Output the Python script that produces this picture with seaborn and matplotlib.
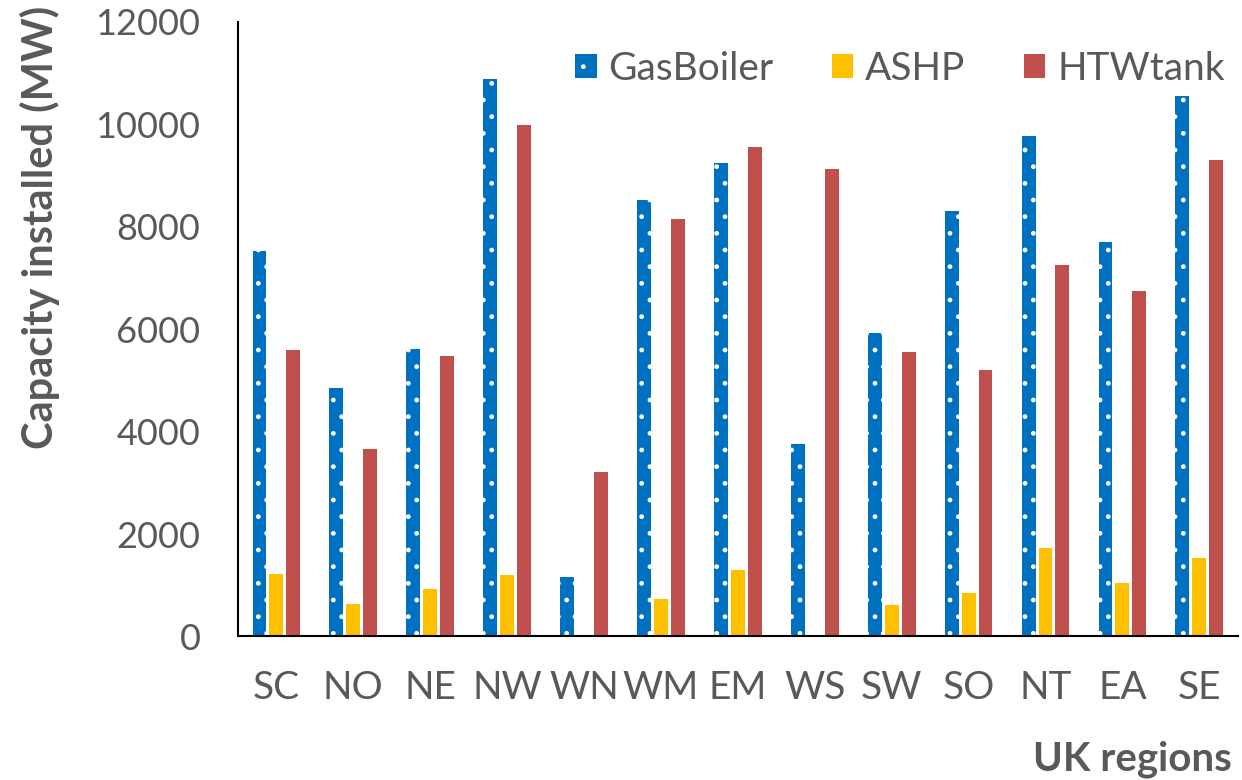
import matplotlib
matplotlib.use("Agg")
import matplotlib.pyplot as plt
from matplotlib.patches import Patch
import pandas as pd
import seaborn as sns

regions = ["SC", "NO", "NE", "NW", "WN", "WM", "EM", "WS", "SW", "SO", "NT", "EA", "SE"]
gas_boiler = [7530, 4860, 5620, 10880, 1160, 8520, 9250, 3750, 5920, 8310, 9770, 7700, 10560]
ashp = [1225, 630, 935, 1195, 0, 740, 1290, 0, 610, 840, 1720, 1050, 1540]
htw_tank = [5590, 3670, 5470, 9980, 3210, 8150, 9560, 9120, 5550, 5200, 7250, 6740, 9300]
technologies = ["GasBoiler", "ASHP", "HTWtank"]
y_ticks = [0, 2000, 4000, 6000, 8000, 10000, 12000]

colors = {"GasBoiler": "#0070C0", "ASHP": "#FFC000", "HTWtank": "#C0504D"}
text_color = "#595959"

df = pd.DataFrame({
    "region": regions * 3,
    "tech": [t for t in technologies for _ in regions],
    "capacity": gas_boiler + ashp + htw_tank,
})

sns.set_theme(style="white")
plt.rcParams["font.family"] = ["Lato", "DejaVu Sans"]
plt.rcParams["hatch.color"] = "white"
plt.rcParams["hatch.linewidth"] = 1.0

fig = plt.figure(figsize=(12.42, 7.8), dpi=100)
ax = fig.add_axes([0.1916, 0.184, 0.805, 0.788])

sns.barplot(data=df, x="region", y="capacity", hue="tech", order=regions,
            hue_order=technologies, palette=colors, width=0.66, gap=0.18,
            saturation=1, legend=False, ax=ax, linewidth=0)

# dotted fill on the gas boiler bars
for bar in ax.containers[0]:
    bar.set_hatch(".")
    bar.set_edgecolor("white")
    bar.set_linewidth(0)

ax.set_xlim(-0.5, len(regions) - 0.5)
ax.set_ylim(0, 12000)
ax.set_yticks(y_ticks)
ax.set_yticklabels([str(v) for v in y_ticks])

for side in ["top", "right"]:
    ax.spines[side].set_visible(False)
for side in ["left", "bottom"]:
    ax.spines[side].set_color("black")
    ax.spines[side].set_linewidth(1.5)

ax.tick_params(axis="y", length=0, pad=27, labelsize=26, labelcolor=text_color)
ax.tick_params(axis="x", length=0, pad=24, labelsize=28, labelcolor=text_color)

ax.set_ylabel("Capacity installed (MW)", fontsize=30, fontweight="bold",
              color=text_color)
ax.yaxis.set_label_coords(-0.178, 0.665)
ax.set_xlabel("UK regions", fontsize=29, fontweight="bold", color=text_color,
              ha="right")
ax.xaxis.set_label_coords(0.994, -0.17)

handles = [Patch(facecolor=colors[t], edgecolor="white", linewidth=0,
                 hatch="." if t == "GasBoiler" else None) for t in technologies]
ax.legend(handles, technologies, ncol=3, loc="center right",
          bbox_to_anchor=(0.987, 0.9235), frameon=False, fontsize=28,
          labelcolor=text_color, handlelength=0.56, handleheight=0.56,
          handletextpad=0.3, columnspacing=1.5, borderpad=0, borderaxespad=0)

fig.savefig("out.png", dpi=100)
